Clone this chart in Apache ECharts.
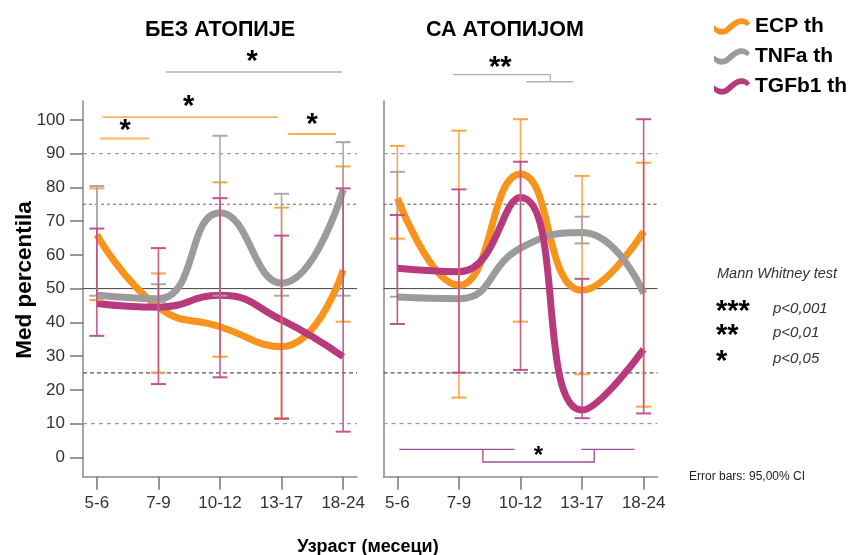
<!DOCTYPE html>
<html>
<head>
<meta charset="utf-8">
<script src="https://cdn.jsdelivr.net/npm/echarts@6/dist/echarts.min.js"></script>
<style>
  html, body { margin: 0; padding: 0; background: #fff; }
  #chart { width: 853px; height: 555px; }
</style>
</head>
<body>
<div id="chart"></div>
<script>
// Age groups (months) and y ticks
const ageGroups = ['5-6', '7-9', '10-12', '13-17', '18-24'];
const yTicks = [0, 10, 20, 30, 40, 50, 60, 70, 80, 90, 100];
const refLevels = [10, 25, 50, 75, 90];
const seriesNames = ['ECP th', 'TNFa th', 'TGFb1 th'];

// БЕЗ АТОПИЈЕ — medians and 95% CI bounds
const ecpNo      = [66, 44.5, 38.7, 32.8, 55.5];
const ecpNoLow   = [46.6, 25.1, 29.8, 11.6, 40.2];
const ecpNoHigh  = [79.7, 54.5, 81.5, 74.0, 86.2];
const tnfNo      = [48, 47, 72.5, 51.6, 79.3];
const tnfNoLow   = [47.9, 46, 47.9, 47.9, 47.9];
const tnfNoHigh  = [80.4, 51.3, 95.3, 78.1, 93.4];
const tgfNo      = [45.6, 44.5, 48, 40.7, 29.8];
const tgfNoLow   = [36, 21.7, 23.7, 11.4, 7.6];
const tgfNoHigh  = [67.8, 62, 76.8, 65.7, 79.7];

// СА АТОПИЈОМ — medians and 95% CI bounds
const ecpAt      = [76.8, 51, 84, 49.5, 66.9];
const ecpAtLow   = [64.8, 17.7, 40.2, 24.6, 15];
const ecpAtHigh  = [92.3, 96.8, 100.2, 83.4, 87.3];
const tnfAt      = [47.5, 47, 62, 66.6, 48.6];
const tnfAtLow   = [47.6, null, null, 63.4, null];
const tnfAtHigh  = [84.6, null, null, 71.3, null];
const tgfAt      = [56, 55, 77, 14, 32];
const tgfAtLow   = [39.5, 25.1, 25.9, 11.6, 13];
const tgfAtHigh  = [71.8, 79.4, 87.6, 52.9, 100.2];

const FONT = '"Liberation Sans", Arial, Helvetica, sans-serif';
const COLORS = ['#f7941d', '#9b9b9b', '#b83a7c'];
const BAR_COLORS = ['#f8a13a', '#a3a3a3', '#c24a88'];
const X_MIN = -0.225, X_MAX = 4.225, Y_MIN = -5.75, Y_MAX = 105.6;
const WAVE = 'path://M0,7 C3,10 8,12 12,9 C16,5 21,1 26,0 C30,-0.5 34,1 36,5 L33,8 C31,6 29,5.5 26,6 C22,7 19,11 15,14 C11,17 5,18 0,13 Z';

const chart = echarts.init(document.getElementById('chart'));

function xAxisCfg(gridIndex) {
  return {
    type: 'value', gridIndex, min: X_MIN, max: X_MAX,
    splitLine: { show: false },
    axisLine: { show: true, onZero: false, lineStyle: { color: '#8a8a8a', width: 1.5 } },
    axisTick: { show: true, customValues: [0, 1, 2, 3, 4], length: 13, lineStyle: { color: '#777', width: 1.5 } },
    axisLabel: {
      show: true, customValues: [0, 1, 2, 3, 4], margin: 18,
      formatter: v => ageGroups[Math.round(v)] || '',
      fontSize: 17, color: '#333', fontFamily: FONT
    }
  };
}

function yAxisCfg(gridIndex, labelled) {
  return {
    type: 'value', gridIndex, min: Y_MIN, max: Y_MAX,
    splitLine: { show: false },
    axisLine: { show: true, onZero: false, lineStyle: { color: '#8a8a8a', width: 1.5 } },
    axisTick: { show: labelled, customValues: yTicks, length: 13, lineStyle: { color: '#777', width: 1.5 } },
    axisLabel: { show: labelled, customValues: yTicks, margin: 18, fontSize: 17, color: '#333', fontFamily: FONT }
  };
}

function renderErrorBar(params, api) {
  const x = api.value(0);
  const lo = api.coord([x, api.value(1)]);
  const hi = api.coord([x, api.value(2)]);
  const hw = 7.5;
  const color = api.visual('color');
  const thin = { stroke: color, lineWidth: 1.6, opacity: 0.9 };
  const cap = { stroke: color, lineWidth: 2, opacity: 0.95 };
  return {
    type: 'group',
    children: [
      { type: 'line', shape: { x1: lo[0], y1: lo[1], x2: hi[0], y2: hi[1] }, style: thin },
      { type: 'line', shape: { x1: hi[0] - hw, y1: hi[1], x2: hi[0] + hw, y2: hi[1] }, style: cap },
      { type: 'line', shape: { x1: lo[0] - hw, y1: lo[1], x2: lo[0] + hw, y2: lo[1] }, style: cap }
    ]
  };
}

const refStyles = {
  10: { stroke: '#9a9a9a', lineWidth: 1.2, lineDash: [4, 4] },
  25: { stroke: '#555', lineWidth: 1.2, lineDash: [4, 3] },
  50: { stroke: '#444', lineWidth: 1 },
  75: { stroke: '#666', lineWidth: 1.2, lineDash: [3, 3] },
  90: { stroke: '#9a9a9a', lineWidth: 1.2, lineDash: [4, 4] }
};

function renderRefLine(params, api) {
  const level = api.value(1);
  const cs = params.coordSys;
  const y = api.coord([0, level])[1];
  return {
    type: 'line',
    shape: { x1: cs.x, y1: y, x2: cs.x + cs.width, y2: y },
    style: refStyles[level]
  };
}

function panelSeries(gridIndex, medians, lows, highs) {
  const out = [];
  out.push({
    type: 'custom', xAxisIndex: gridIndex, yAxisIndex: gridIndex, z: 1, silent: true,
    renderItem: renderRefLine,
    data: refLevels.map(v => [0, v])
  });
  medians.forEach((vals, k) => {
    out.push({
      name: seriesNames[k], type: 'line', xAxisIndex: gridIndex, yAxisIndex: gridIndex,
      smooth: 0.5, showSymbol: false, z: 2,
      lineStyle: { width: 7, color: COLORS[k] },
      itemStyle: { color: COLORS[k] },
      data: vals.map((v, i) => [i, v])
    });
  });
  lows.forEach((lo, k) => {
    out.push({
      type: 'custom', xAxisIndex: gridIndex, yAxisIndex: gridIndex, z: 3, silent: true,
      itemStyle: { color: BAR_COLORS[k] },
      renderItem: renderErrorBar,
      encode: { x: 0, y: [1, 2] },
      data: lo.map((l, i) => (l == null ? null : [i, l, highs[k][i]])).filter(d => d)
    });
  });
  return out;
}

chart.setOption({
  animation: false,
  backgroundColor: '#fff',
  grid: [
    { left: 83, top: 101, width: 274, height: 375.7 },
    { left: 383.5, top: 101, width: 274, height: 375.7 }
  ],
  xAxis: [xAxisCfg(0), xAxisCfg(1)],
  yAxis: [yAxisCfg(0, true), yAxisCfg(1, false)],
  legend: {
    orient: 'vertical', left: 709, top: 11,
    itemWidth: 36, itemHeight: 19, itemGap: 9,
    selectedMode: false,
    textStyle: { fontSize: 21, fontWeight: 'bold', color: '#000', fontFamily: FONT },
    data: seriesNames.map(n => ({ name: n, icon: WAVE }))
  },
  series: [
    ...panelSeries(0, [ecpNo, tnfNo, tgfNo], [ecpNoLow, tnfNoLow, tgfNoLow], [ecpNoHigh, tnfNoHigh, tgfNoHigh]),
    ...panelSeries(1, [ecpAt, tnfAt, tgfAt], [ecpAtLow, tnfAtLow, tgfAtLow], [ecpAtHigh, tnfAtHigh, tgfAtHigh])
  ]
});

// Significance brackets, in axis units of each panel
const brackets = [
  { grid: 0, color: '#b0b0b0', width: 1.5, pts: [[1.127, 114.2], [3.984, 114.2]] },
  { grid: 0, color: '#f7941d', width: 1.3, pts: [[0.09, 100.8], [2.943, 100.8]] },
  { grid: 0, color: '#fbc27a', width: 2.6, pts: [[0.054, 94.5], [0.846, 94.5]] },
  { grid: 0, color: '#f7941d', width: 1.5, pts: [[3.10, 95.8], [3.886, 95.8]] },
  { grid: 1, color: '#b0b0b0', width: 1.3, pts: [[0.906, 113.4], [2.483, 113.4], [2.483, 111.3]] },
  { grid: 1, color: '#b0b0b0', width: 1.3, pts: [[2.093, 111.3], [2.857, 111.3]] },
  { grid: 1, color: '#9c4f98', width: 1.3, pts: [[0.033, 2.37], [1.902, 2.37]] },
  { grid: 1, color: '#9c4f98', width: 1.3, pts: [[1.389, 2.37], [1.389, -1.39], [3.198, -1.39], [3.198, 2.37]] },
  { grid: 1, color: '#9c4f98', width: 1.3, pts: [[2.987, 2.37], [3.85, 2.37]] }
];
const stars = [
  { grid: 0, x: 2.52, y: 118.3, text: '*' },
  { grid: 0, x: 1.49, y: 104.9, text: '*' },
  { grid: 0, x: 0.46, y: 97.8, text: '*' },
  { grid: 0, x: 3.496, y: 99.5, text: '*' },
  { grid: 1, x: 1.67, y: 116.3, text: '**' },
  { grid: 1, x: 2.293, y: 1.19, text: '*', small: true }
];

const toPx = (g, p) => chart.convertToPixel({ xAxisIndex: g, yAxisIndex: g }, p);
const STAR_SIZE = 29;
const STAR_SHIFT = 0.12;

const graphics = [];
brackets.forEach(b => {
  graphics.push({
    type: 'polyline', silent: true, z: 10,
    shape: { points: b.pts.map(p => toPx(b.grid, p)) },
    style: { stroke: b.color, lineWidth: b.width, fill: null }
  });
});
stars.forEach(s => {
  const p = toPx(s.grid, [s.x, s.y]);
  const size = s.small ? 24 : STAR_SIZE;
  graphics.push({
    type: 'text', silent: true, z: 11, x: p[0], y: p[1] + size * STAR_SHIFT,
    style: { text: s.text, font: `bold ${size}px ${FONT}`, fill: '#000', align: 'center', verticalAlign: 'middle' }
  });
});

function label(text, x, y, font, opts) {
  return Object.assign({
    type: 'text', silent: true, x, y,
    style: { text, font, fill: '#000', align: 'center', verticalAlign: 'middle' }
  }, opts || {});
}

// Panel titles and axis names
graphics.push(label('БЕЗ АТОПИЈЕ', 220, 30, `bold 21.5px ${FONT}`));
graphics.push(label('СА АТОПИЈОМ', 505, 30, `bold 21.5px ${FONT}`));
graphics.push(label('Узраст (месеци)', 368, 547, `bold 18px ${FONT}`));
graphics.push(label('Med percentila', 25, 280, `bold 22.5px ${FONT}`, { rotation: Math.PI / 2 }));

// Test key
graphics.push({ type: 'text', silent: true, x: 717, y: 274,
  style: { text: 'Mann Whitney test', font: `italic 14.5px ${FONT}`, fill: '#333', align: 'left', verticalAlign: 'middle' } });
const keyRows = [['***', 'p<0,001', 309], ['**', 'p<0,01', 333], ['*', 'p<0,05', 359]];
keyRows.forEach(r => {
  graphics.push({ type: 'text', silent: true, x: 716, y: r[2] + STAR_SIZE * STAR_SHIFT,
    style: { text: r[0], font: `bold ${STAR_SIZE}px ${FONT}`, fill: '#000', align: 'left', verticalAlign: 'middle' } });
  graphics.push({ type: 'text', silent: true, x: 773, y: r[2],
    style: { text: r[1], font: `italic 15px ${FONT}`, fill: '#333', align: 'left', verticalAlign: 'middle' } });
});
graphics.push({ type: 'text', silent: true, x: 689, y: 477,
  style: { text: 'Error bars: 95,00% CI', font: `12px ${FONT}`, fill: '#222', align: 'left', verticalAlign: 'middle' } });

chart.setOption({ graphic: graphics });
</script>
</body>
</html>
